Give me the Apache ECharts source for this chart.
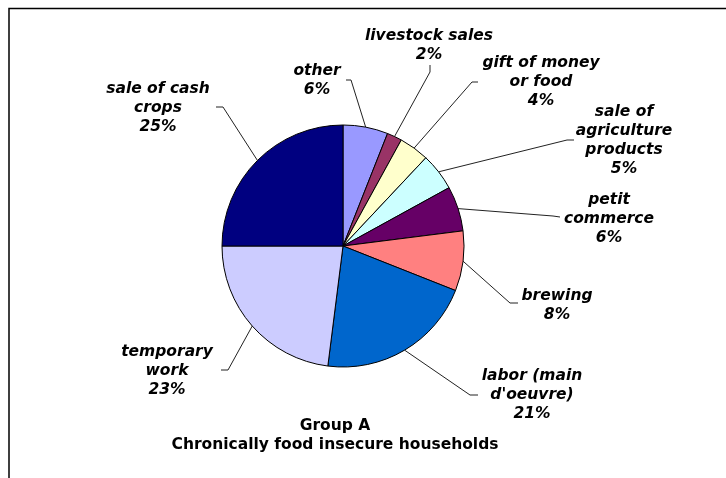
<!DOCTYPE html>
<html>
<head>
<meta charset="utf-8">
<title>Group A - Chronically food insecure households</title>
<script src="https://cdn.jsdelivr.net/npm/echarts@6/dist/echarts.min.js"></script>
<style>
  html, body { margin: 0; padding: 0; background: #fff; }
  #chart { width: 726px; height: 478px; }
</style>
</head>
<body>
<div id="chart"></div>
<script>
// Income sources, clockwise from 12 o'clock
const categories = [
  'other',
  'livestock sales',
  'gift of money\nor food',
  'sale of\nagriculture\nproducts',
  'petit\ncommerce',
  'brewing',
  'labor (main\nd\'oeuvre)',
  'temporary\nwork',
  'sale of cash\ncrops'
];
// Share of households' income (%)
const shares = [6, 2, 4, 5, 6, 8, 21, 23, 25];

const sliceColors = [
  '#9999FF', '#993366', '#FFFFCC', '#CCFFFF', '#660066',
  '#FF8080', '#0066CC', '#CCCCFF', '#000080'
];

// Where each label block sits, and the bend / end of its leader line
const labelSpots = [
  { at: [317, 80],  elbow: [351, 80],  end: [346, 80] },
  { at: [429, 45],  elbow: [430, 72],  end: [430, 65] },
  { at: [541, 82],  elbow: [472, 82],  end: [478, 82] },
  { at: [624, 140], elbow: [567, 140], end: [574, 140] },
  { at: [609, 219], elbow: [553, 216], end: [560, 217] },
  { at: [557, 305], elbow: [510, 303], end: [518, 303] },
  { at: [532, 395], elbow: [470, 395], end: [478, 395] },
  { at: [167, 371], elbow: [228, 370], end: [221, 370] },
  { at: [158, 108], elbow: [223, 107], end: [216, 107] }
];

const chart = echarts.init(document.getElementById('chart'), null, { renderer: 'canvas' });

chart.setOption({
  animation: false,
  backgroundColor: '#fff',
  title: {
    text: 'Group A\nChronically food insecure households',
    left: 335,
    top: 416,
    padding: 0,
    textAlign: 'center',
    textStyle: {
      fontFamily: 'DejaVu Sans',
      fontWeight: 'bold',
      fontSize: 15.5,
      lineHeight: 19,
      color: '#000'
    }
  },
  graphic: [{
    type: 'rect',
    shape: { x: 9, y: 8.5, width: 760, height: 520 },
    style: { fill: null, stroke: '#000', lineWidth: 1.5 },
    silent: true
  }],
  series: [{
    type: 'pie',
    center: [343, 246],
    radius: 121,
    startAngle: 90,
    clockwise: true,
    avoidLabelOverlap: false,
    emphasis: { disabled: true },
    data: categories.map((name, i) => ({
      name: name,
      value: shares[i],
      itemStyle: { color: sliceColors[i] }
    })),
    itemStyle: { borderColor: '#000', borderWidth: 1 },
    label: {
      show: true,
      position: 'outside',
      formatter: '{b}\n{c}%',
      fontFamily: 'DejaVu Sans',
      fontWeight: 'bold',
      fontStyle: 'italic',
      fontSize: 15.5,
      lineHeight: 19,
      color: '#000',
      align: 'center'
    },
    labelLine: {
      show: true,
      length: 10,
      length2: 10,
      lineStyle: { color: '#222', width: 1 }
    },
    labelLayout: function (params) {
      const s = labelSpots[params.dataIndex];
      const pts = params.labelLinePoints;
      const out = {
        x: s.at[0],
        y: s.at[1],
        align: 'center',
        verticalAlign: 'middle'
      };
      if (pts && pts[0]) {
        out.labelLinePoints = [pts[0], s.elbow, s.end];
      }
      return out;
    }
  }]
});
</script>
</body>
</html>
